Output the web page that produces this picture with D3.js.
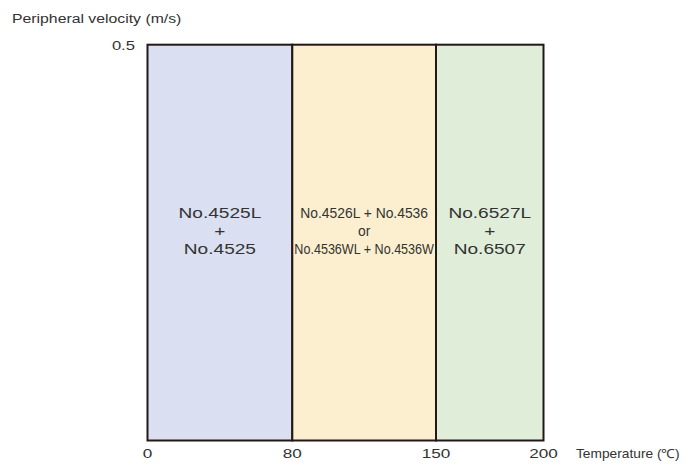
<!DOCTYPE html>
<html><head><meta charset="utf-8">
<script src="https://cdn.jsdelivr.net/npm/d3@7"></script>
<style>body{margin:0;background:#fff}svg{display:block}</style>
</head><body>
<script>
const xTicks = [0, 80, 150, 200];
const yMax = 0.5;
const zoneStarts = [0, 80, 150];
const zoneEnds = [80, 150, 200];
const zoneColors = ["#dae0f1", "#fcefcf", "#e0eed9"];
const zoneLabels = [
  ["No.4525L", "+", "No.4525"],
  ["No.4526L + No.4536", "or", "No.4536WL + No.4536W"],
  ["No.6527L", "+", "No.6507"]
];
const zoneNarrow = [false, true, false];
const yTitle = "Peripheral velocity (m/s)";
const xTitle = "Temperature (\u2103)";

const W = 693, H = 465;
const FONT = "'Liberation Sans', Arial, sans-serif";
const svg = d3.select("body").append("svg").attr("width", W).attr("height", H);
const x = d3.scaleLinear().domain(xTicks).range([147.5, 292.3, 436, 543.5]);
const y = d3.scaleLinear().domain([0, yMax]).range([440.5, 44.7]);
const ink = "#231815";
const txt = "#333333";

// places text at (px,py) and scales it horizontally by factor f (capped to maxW)
function place(sel, px, py, f, maxW) {
  sel.each(function(d, i) {
    const L = this.getComputedTextLength();
    let s = f;
    if (maxW) s = Math.min(s, maxW / L);
    const X = typeof px === "function" ? px(d, i) : px;
    const Y = typeof py === "function" ? py(d, i) : py;
    d3.select(this).attr("x", 0).attr("y", 0)
      .attr("transform", `translate(${X},${Y}) scale(${s},1)`);
  });
}

const zones = zoneStarts.map((s, i) => ({s, e: zoneEnds[i], c: zoneColors[i], l: zoneLabels[i], n: zoneNarrow[i]}));
svg.selectAll("rect.zone").data(zones).enter().append("rect")
  .attr("x", d => x(d.s)).attr("y", y(yMax))
  .attr("width", d => x(d.e) - x(d.s)).attr("height", y(0) - y(yMax))
  .attr("fill", d => d.c).attr("stroke", ink).attr("stroke-width", 2);

const g = svg.selectAll("g.lab").data(zones).enter().append("g");
g.each(function(d) {
  const cx = (x(d.s) + x(d.e)) / 2;
  const t = d3.select(this).selectAll("text").data(d.l).enter().append("text")
    .attr("text-anchor", "middle")
    .attr("font-family", FONT)
    .attr("font-size", 15.4)
    .attr("fill", txt)
    .text(t => t);
  if (d.n) place(t, cx, (t, j) => 218 + j * 18, 0.9, x(d.e) - x(d.s) - 4);
  else place(t, cx, (t, j) => 218 + j * 18, 1.24);
});

// x tick labels
const xt = svg.selectAll("text.xt").data(xTicks).enter().append("text")
  .attr("text-anchor", "middle").attr("font-family", FONT)
  .attr("font-size", 13).attr("fill", txt).text(d => d);
place(xt, d => x(d), 457.5, 1.32);

// y tick label
const yt = svg.append("text").attr("text-anchor", "end")
  .attr("font-family", FONT).attr("font-size", 13).attr("fill", txt)
  .text(yMax);
place(yt, 135, 50, 1.28);

const yl = svg.append("text")
  .attr("font-family", FONT).attr("font-size", 13.5).attr("fill", txt)
  .text(yTitle);
place(yl, 12, 23, 1.17);

const xl = svg.append("text")
  .attr("font-family", FONT).attr("font-size", 12.5).attr("fill", txt)
  .text(xTitle);
place(xl, 576, 457.5, 1.1);
</script>
</body></html>
